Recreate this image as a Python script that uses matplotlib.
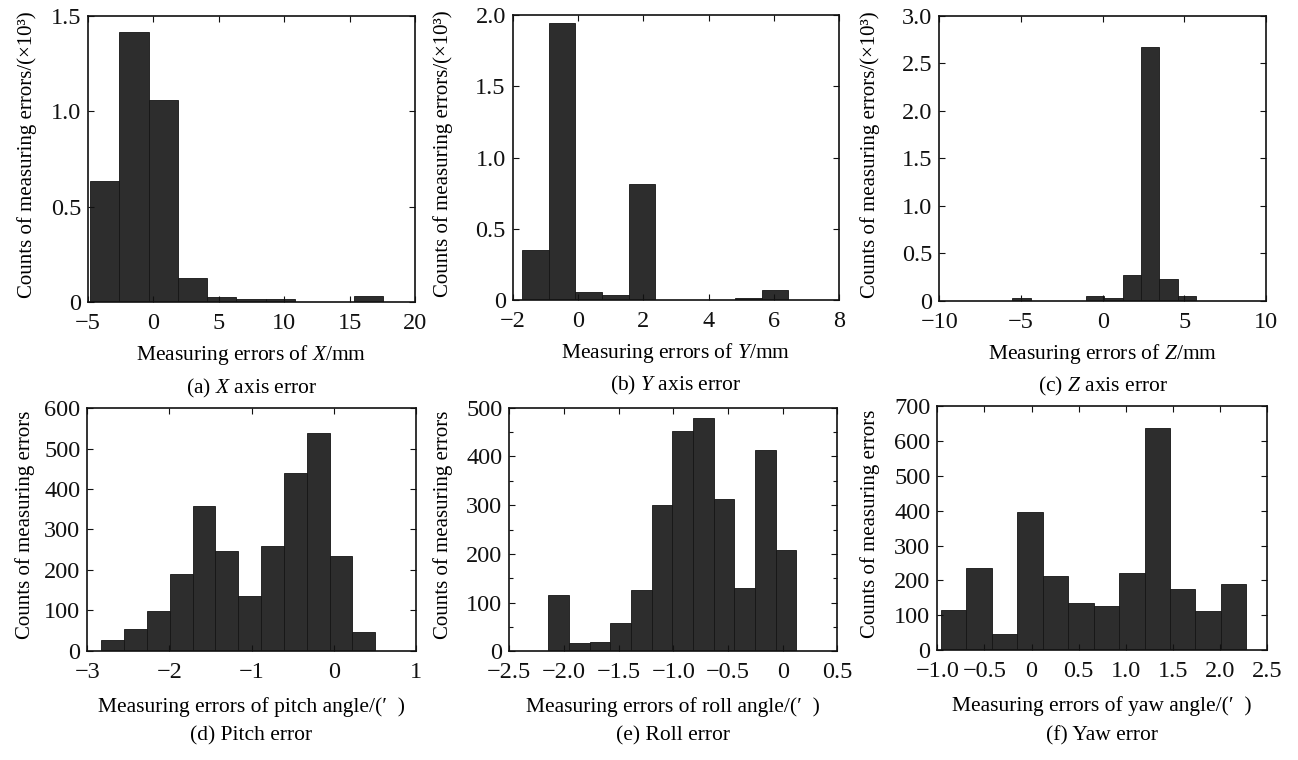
import matplotlib
matplotlib.use('Agg')
import matplotlib.pyplot as plt
import numpy as np
from matplotlib.ticker import FuncFormatter, MultipleLocator

plt.rcParams['font.family'] = ['Liberation Serif', 'DejaVu Serif']
plt.rcParams['mathtext.fontset'] = 'custom'
plt.rcParams['mathtext.rm'] = 'Liberation Serif'
plt.rcParams['mathtext.it'] = 'Liberation Serif:italic'

# histogram data: first bin edge, bin width, counts
x_start, x_width = -4.85, 2.24
x_counts = [0.634, 1.418, 1.059, 0.126, 0.028, 0.014, 0.014, 0.0, 0.0, 0.03]

y_start, y_width = -1.71, 0.815
y_counts = [0.349, 1.946, 0.054, 0.033, 0.817, 0.003, 0.003, 0.003, 0.012, 0.068]

z_start, z_width = -5.53, 1.124
z_counts = [0.03, 0.0, 0.0, 0.0, 0.049, 0.03, 0.267, 2.67, 0.232, 0.049]

pitch_start, pitch_width = -2.83, 0.278
pitch_counts = [26, 54, 98, 190, 358, 246, 135, 259, 439, 538, 235, 47]

roll_start, roll_width = -2.143, 0.189
roll_counts = [115, 17, 20, 58, 125, 301, 453, 479, 312, 129, 413, 208]

yaw_start, yaw_width = -0.961, 0.27
yaw_counts = [115, 236, 47, 395, 214, 136, 128, 221, 635, 175, 113, 191]

ylab_top = 'Counts of measuring errors/(×10³)'
ylab_bot = 'Counts of measuring errors'

panels = [
    # data, axes rect, xlim, xstep, ylim, ystep, yminor, xlabel, caption, ylabel, ylabel offset
    (x_start, x_width, x_counts, [0.0678, 0.6026, 0.2519, 0.3763], (-5, 20), 5, (0, 1.5), 0.5, None,
     'Measuring errors of $X$/mm', '(a) $X$ axis error', ylab_top, -0.186),
    (y_start, y_width, y_counts, [0.3950, 0.6053, 0.2516, 0.3746], (-2, 8), 2, (0, 2.0), 0.5, None,
     'Measuring errors of $Y$/mm', '(b) $Y$ axis error', ylab_top, -0.214),
    (z_start, z_width, z_counts, [0.7237, 0.6043, 0.2517, 0.3746], (-10, 10), 5, (0, 3.0), 0.5, None,
     'Measuring errors of $Z$/mm', '(c) $Z$ axis error', ylab_top, -0.211),
    (pitch_start, pitch_width, pitch_counts, [0.0673, 0.1438, 0.2530, 0.3190], (-3, 1), 1, (0, 600), 100, None,
     'Measuring errors of pitch angle/(′  )', '(d) Pitch error', ylab_bot, -0.189),
    (roll_start, roll_width, roll_counts, [0.3924, 0.1430, 0.2527, 0.3205], (-2.5, 0.5), 0.5, (0, 500), 100, 50,
     'Measuring errors of roll angle/(′  )', '(e) Roll error', ylab_bot, -0.201),
    (yaw_start, yaw_width, yaw_counts, [0.7221, 0.1443, 0.2542, 0.3218], (-1.0, 2.5), 0.5, (0, 700), 100, None,
     'Measuring errors of yaw angle/(′  )', '(f) Yaw error', ylab_bot, -0.203),
]


def fmt1(v, pos):
    if abs(v) < 1e-9:
        return '0'
    return f'{v:.1f}'.replace('-', '\u2212')


def fmt0(v, pos):
    return f'{v:.0f}'.replace('-', '\u2212')


fig = plt.figure(figsize=(12.98, 7.6), dpi=100)

for (start, width, counts, rect, xlim, xstep, ylim, ystep, yminor,
     xlabel, caption, ylabel, yoff) in panels:
    ax = fig.add_axes(rect)
    counts = np.array(counts)
    lefts = start + width * np.arange(len(counts))
    ax.bar(lefts, counts, width=width, align='edge', color='#2d2d2d',
           edgecolor='#151515', linewidth=0.6)
    ax.set_xlim(*xlim)
    ax.set_ylim(*ylim)
    ax.xaxis.set_major_locator(MultipleLocator(xstep))
    ax.yaxis.set_major_locator(MultipleLocator(ystep))
    if yminor:
        ax.yaxis.set_minor_locator(MultipleLocator(yminor))
    ax.xaxis.set_major_formatter(FuncFormatter(fmt1 if xstep < 1 else fmt0))
    ax.yaxis.set_major_formatter(FuncFormatter(fmt1 if ystep < 1 else fmt0))
    ax.tick_params(which='both', direction='in', top=True, right=True,
                   labelsize=17.5, length=4, width=0.8, colors='#111111')
    ax.tick_params(axis='x', pad=8)
    ax.tick_params(axis='y', pad=5)
    ax.tick_params(which='minor', length=3)
    for s in ax.spines.values():
        s.set_linewidth(1.2)
        s.set_color('#111111')
    h_px = rect[3] * 760
    top_row = rect[1] > 0.5
    ax.text(0.5, (-53 if top_row else -56) / h_px, xlabel,
            transform=ax.transAxes, ha='center', va='center', fontsize=15.5)
    ax.text(0.5, (-86 if top_row else -85) / h_px, caption, transform=ax.transAxes,
            ha='center', va='center', fontsize=15.5)
    ax.text(yoff, 0.514 if top_row else 0.519, ylabel, transform=ax.transAxes,
            rotation=90, ha='center', va='center', fontsize=15)

fig.savefig('out.png', dpi=100)
